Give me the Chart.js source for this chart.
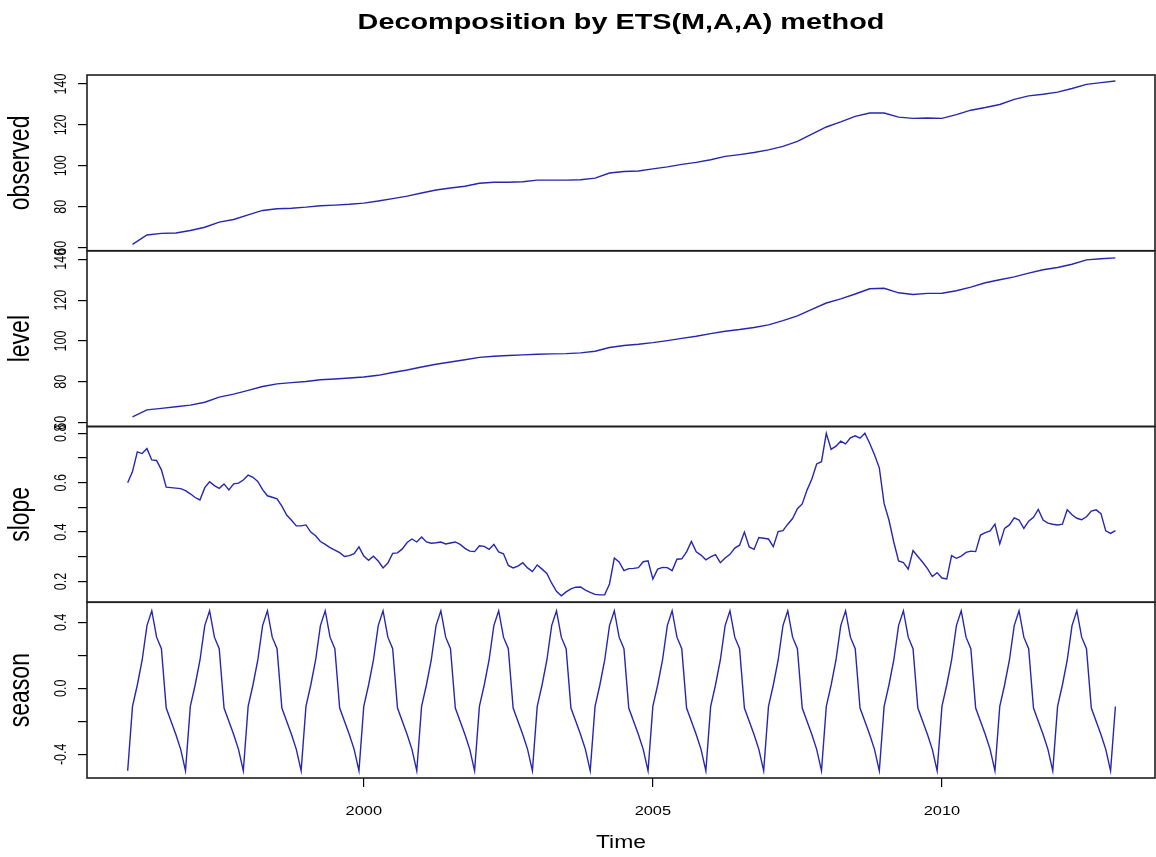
<!DOCTYPE html>
<html>
<head>
<meta charset="utf-8">
<script src="https://cdn.jsdelivr.net/npm/chart.js@4.4.1/dist/chart.umd.min.js"></script>
<style>
  html, body { margin: 0; padding: 0; background: #fff; }
  #wrap { position: relative; width: 1156px; height: 857px; overflow: hidden; }
  #wrap canvas { position: absolute; left: 0; top: 0; }
</style>
</head>
<body>
<div id="wrap">
  <canvas id="p0" width="1156" height="857"></canvas>
  <canvas id="p1" width="1156" height="857"></canvas>
  <canvas id="p2" width="1156" height="857"></canvas>
  <canvas id="p3" width="1156" height="857"></canvas>
</div>
<script>
// quarterly readings, starting Jan 1996
const observedStart = 1996.0;
const observedValues = [
  61.6, 66.2, 67.0, 67.2, 68.4, 70.0, 72.5, 73.8, 76.0, 78.2,
  79.0, 79.3, 79.8, 80.5, 80.8, 81.2, 81.8, 82.8, 84.0, 85.2,
  86.7, 88.2, 89.2, 90.0, 91.5, 92.0, 92.0, 92.2, 93.0, 93.0,
  93.0, 93.2, 94.0, 96.5, 97.2, 97.5, 98.5, 99.5, 100.7, 101.7,
  103.0, 104.6, 105.5, 106.5, 107.8, 109.5, 112.0, 115.5, 119.0, 121.5,
  124.2, 125.8, 125.8, 123.8, 123.2, 123.4, 123.2, 125.0, 127.2, 128.5,
  130.0, 132.5, 134.2, 135.0, 136.0, 137.8, 139.8, 140.7, 141.5
];
const levelStart = 1996.0;
const levelValues = [
  62.8, 66.3, 67.0, 67.8, 68.6, 70.0, 72.5, 74.0, 75.8, 77.7,
  79.0, 79.6, 80.2, 81.0, 81.4, 81.9, 82.4, 83.2, 84.6, 85.8,
  87.3, 88.6, 89.7, 90.8, 92.0, 92.5, 92.9, 93.2, 93.5, 93.7,
  93.8, 94.2, 95.0, 96.8, 97.8, 98.4, 99.2, 100.2, 101.3, 102.3,
  103.6, 104.8, 105.6, 106.6, 107.9, 110.0, 112.3, 115.5, 118.6, 120.6,
  123.0, 125.6, 125.8, 123.6, 122.8, 123.3, 123.4, 124.6, 126.4, 128.5,
  130.0, 131.4, 133.2, 134.9, 136.0, 137.6, 139.7, 140.3, 140.7
];

// monthly states, starting Dec 1995
const stateStart = 1995 + 11 / 12;
const slopeValues = [
  0.600, 0.645, 0.725, 0.718, 0.738, 0.692, 0.690, 0.652, 0.582, 0.580,
  0.578, 0.576, 0.568, 0.555, 0.540, 0.530, 0.580, 0.604, 0.588, 0.577,
  0.595, 0.571, 0.595, 0.598, 0.611, 0.631, 0.622, 0.605, 0.572, 0.547,
  0.541, 0.535, 0.505, 0.469, 0.448, 0.425, 0.425, 0.429, 0.400, 0.385,
  0.362, 0.350, 0.337, 0.327, 0.317, 0.301, 0.305, 0.313, 0.340, 0.303,
  0.286, 0.302, 0.283, 0.255, 0.275, 0.314, 0.316, 0.332, 0.358, 0.372,
  0.360, 0.380, 0.360, 0.355, 0.357, 0.360, 0.352, 0.356, 0.360, 0.350,
  0.334, 0.323, 0.321, 0.345, 0.342, 0.330, 0.350, 0.320, 0.312, 0.265,
  0.255, 0.262, 0.276, 0.255, 0.240, 0.267, 0.250, 0.233, 0.193, 0.160,
  0.142, 0.158, 0.170, 0.177, 0.178, 0.165, 0.156, 0.148, 0.146, 0.146,
  0.190, 0.295, 0.279, 0.244, 0.252, 0.253, 0.256, 0.280, 0.284, 0.210,
  0.250, 0.257, 0.256, 0.244, 0.290, 0.292, 0.320, 0.362, 0.320, 0.307,
  0.288, 0.300, 0.309, 0.276, 0.295, 0.310, 0.335, 0.347, 0.400, 0.340,
  0.330, 0.378, 0.375, 0.372, 0.341, 0.402, 0.406, 0.432, 0.455, 0.495,
  0.514, 0.570, 0.615, 0.676, 0.685, 0.800, 0.735, 0.748, 0.768, 0.757,
  0.782, 0.790, 0.780, 0.800, 0.760, 0.713, 0.660, 0.515, 0.449, 0.360,
  0.283, 0.277, 0.250, 0.325, 0.301, 0.278, 0.252, 0.220, 0.236, 0.214,
  0.210, 0.305, 0.294, 0.303, 0.318, 0.323, 0.321, 0.388, 0.398, 0.405,
  0.432, 0.352, 0.415, 0.429, 0.458, 0.449, 0.415, 0.444, 0.460, 0.492,
  0.449, 0.436, 0.432, 0.429, 0.432, 0.490, 0.470, 0.456, 0.450, 0.462,
  0.485, 0.490, 0.475, 0.405, 0.395, 0.406
];
const seasonValues = [
  -0.50, -0.11, 0.02, 0.17, 0.38, 0.47, 0.31, 0.24, -0.12, -0.20, -0.28, -0.37,
  -0.50, -0.11, 0.02, 0.17, 0.38, 0.47, 0.31, 0.24, -0.12, -0.20, -0.28, -0.37,
  -0.50, -0.11, 0.02, 0.17, 0.38, 0.47, 0.31, 0.24, -0.12, -0.20, -0.28, -0.37,
  -0.50, -0.11, 0.02, 0.17, 0.38, 0.47, 0.31, 0.24, -0.12, -0.20, -0.28, -0.37,
  -0.50, -0.11, 0.02, 0.17, 0.38, 0.47, 0.31, 0.24, -0.12, -0.20, -0.28, -0.37,
  -0.50, -0.11, 0.02, 0.17, 0.38, 0.47, 0.31, 0.24, -0.12, -0.20, -0.28, -0.37,
  -0.50, -0.11, 0.02, 0.17, 0.38, 0.47, 0.31, 0.24, -0.12, -0.20, -0.28, -0.37,
  -0.50, -0.11, 0.02, 0.17, 0.38, 0.47, 0.31, 0.24, -0.12, -0.20, -0.28, -0.37,
  -0.50, -0.11, 0.02, 0.17, 0.38, 0.47, 0.31, 0.24, -0.12, -0.20, -0.28, -0.37,
  -0.50, -0.11, 0.02, 0.17, 0.38, 0.47, 0.31, 0.24, -0.12, -0.20, -0.28, -0.37,
  -0.50, -0.11, 0.02, 0.17, 0.38, 0.47, 0.31, 0.24, -0.12, -0.20, -0.28, -0.37,
  -0.50, -0.11, 0.02, 0.17, 0.38, 0.47, 0.31, 0.24, -0.12, -0.20, -0.28, -0.37,
  -0.50, -0.11, 0.02, 0.17, 0.38, 0.47, 0.31, 0.24, -0.12, -0.20, -0.28, -0.37,
  -0.50, -0.11, 0.02, 0.17, 0.38, 0.47, 0.31, 0.24, -0.12, -0.20, -0.28, -0.37,
  -0.50, -0.11, 0.02, 0.17, 0.38, 0.47, 0.31, 0.24, -0.12, -0.20, -0.28, -0.37,
  -0.50, -0.11, 0.02, 0.17, 0.38, 0.47, 0.31, 0.24, -0.12, -0.20, -0.28, -0.37,
  -0.50, -0.11, 0.02, 0.17, 0.38, 0.47, 0.31, 0.24, -0.12, -0.20, -0.28, -0.37,
  -0.50, -0.11
];

// axis ticks and labels
const observedTicks = [60, 80, 100, 120, 140];
const observedTickLabels = ['60', '80', '100', '120', '140'];
const levelTicks = [60, 80, 100, 120, 140];
const levelTickLabels = ['60', '80', '100', '120', '140'];
const slopeTicks = [0.2, 0.3, 0.4, 0.5, 0.6, 0.7, 0.8];
const slopeTickLabels = ['0.2', '', '0.4', '', '0.6', '', '0.8'];
const seasonTicks = [-0.4, -0.2, 0, 0.2, 0.4];
const seasonTickLabels = ['-0.4', '', '0.0', '', '0.4'];
const timeTicks = [2000, 2005, 2010];
const timeTickLabels = ['2000', '2005', '2010'];

const chartTitle = 'Decomposition by ETS(M,A,A) method';
const xTitle = 'Time';

// the reference was stretched sideways, so text is widened to match
const TEXT_STRETCH = 1.31;
const FONT = '"Liberation Sans", Arial, sans-serif';
const LINE_COLOR = '#2626b0';

function stretchText(ctx, text, x, y, size, rotate, bold) {
    ctx.save();
    ctx.translate(x, y);
    ctx.scale(TEXT_STRETCH, 1);
    if (rotate) ctx.rotate(-Math.PI / 2);
    ctx.font = (bold ? 'bold ' : '') + size + 'px ' + FONT;
    ctx.fillStyle = '#000';
    ctx.textAlign = 'center';
    ctx.textBaseline = 'middle';
    ctx.fillText(text, 0, 0);
    ctx.restore();
}

function toPoints(start, step, values) {
    return values.map((v, i) => ({ x: start + i * step, y: v }));
}

const panels = [
    { id: 'p0', name: 'observed', data: toPoints(observedStart, 0.25, observedValues),
      min: 58.5, max: 144.4, ticks: observedTicks, labels: observedTickLabels, top: 75, bottom: 250.75 },
    { id: 'p1', name: 'level', data: toPoints(levelStart, 0.25, levelValues),
      min: 58.14, max: 144.19, ticks: levelTicks, labels: levelTickLabels, top: 250.75, bottom: 426.5 },
    { id: 'p2', name: 'slope', data: toPoints(stateStart, 1 / 12, slopeValues),
      min: 0.116, max: 0.8275, ticks: slopeTicks, labels: slopeTickLabels, top: 426.5, bottom: 602.25 },
    { id: 'p3', name: 'season', data: toPoints(stateStart, 1 / 12, seasonValues),
      min: -0.5436, max: 0.5215, ticks: seasonTicks, labels: seasonTickLabels, top: 602.25, bottom: 778 }
];

panels.forEach(function (p, idx) {
    const isFirst = idx === 0;
    const isLast = idx === panels.length - 1;

    const textPlugin = {
        id: 'panelText' + idx,
        afterDraw(chart) {
            const ctx = chart.ctx;
            const area = chart.chartArea;
            const yScale = chart.scales.y;

            // panel frame
            ctx.save();
            ctx.strokeStyle = '#1e1e1e';
            ctx.lineWidth = 1.6;
            ctx.strokeRect(area.left, area.top, area.right - area.left, area.bottom - area.top);
            ctx.restore();

            // y tick labels, rotated like R's las=0
            p.ticks.forEach(function (v, i) {
                if (p.labels[i]) {
                    stretchText(ctx, p.labels[i], 61, yScale.getPixelForValue(v), 12.5, true);
                }
            });
            stretchText(ctx, p.name, 21, (area.top + area.bottom) / 2, 23, true);

            if (isFirst) {
                stretchText(ctx, chartTitle, (area.left + area.right) / 2, 23, 22, false, true);
            }
            if (isLast) {
                const xScale = chart.scales.x;
                timeTicks.forEach(function (v, i) {
                    stretchText(ctx, timeTickLabels[i], xScale.getPixelForValue(v), 812, 12.5, false);
                });
                stretchText(ctx, xTitle, (area.left + area.right) / 2, 843, 17.5, false);
            }
        }
    };

    new Chart(document.getElementById(p.id).getContext('2d'), {
        type: 'line',
        data: {
            datasets: [{
                label: p.name,
                data: p.data,
                borderColor: LINE_COLOR,
                borderWidth: 1.4,
                pointRadius: 0,
                tension: 0,
                fill: false
            }]
        },
        options: {
            responsive: false,
            animation: false,
            devicePixelRatio: 1,
            layout: {
                padding: { left: 0, right: 1, top: p.top, bottom: isLast ? 0 : 857 - p.bottom }
            },
            plugins: {
                legend: { display: false },
                title: { display: false },
                tooltip: { enabled: false }
            },
            scales: {
                x: {
                    type: 'linear',
                    display: isLast,
                    min: 1995.213,
                    max: 2013.685,
                    afterBuildTicks: function (scale) {
                        scale.ticks = timeTicks.map(v => ({ value: v }));
                    },
                    afterFit: function (scale) {
                        scale.height = isLast ? 857 - 778 : 0;
                    },
                    grid: { drawOnChartArea: false, drawTicks: true, tickLength: 9, color: '#000', lineWidth: 1.2 },
                    border: { display: false },
                    ticks: { display: false }
                },
                y: {
                    type: 'linear',
                    min: p.min,
                    max: p.max,
                    afterBuildTicks: function (scale) {
                        scale.ticks = p.ticks.map(v => ({ value: v }));
                    },
                    afterFit: function (scale) {
                        scale.width = 87;
                    },
                    grid: { drawOnChartArea: false, drawTicks: true, tickLength: 9, color: '#000', lineWidth: 1.2 },
                    border: { display: false },
                    ticks: { display: false }
                }
            }
        },
        plugins: [textPlugin]
    });
});
</script>
</body>
</html>
